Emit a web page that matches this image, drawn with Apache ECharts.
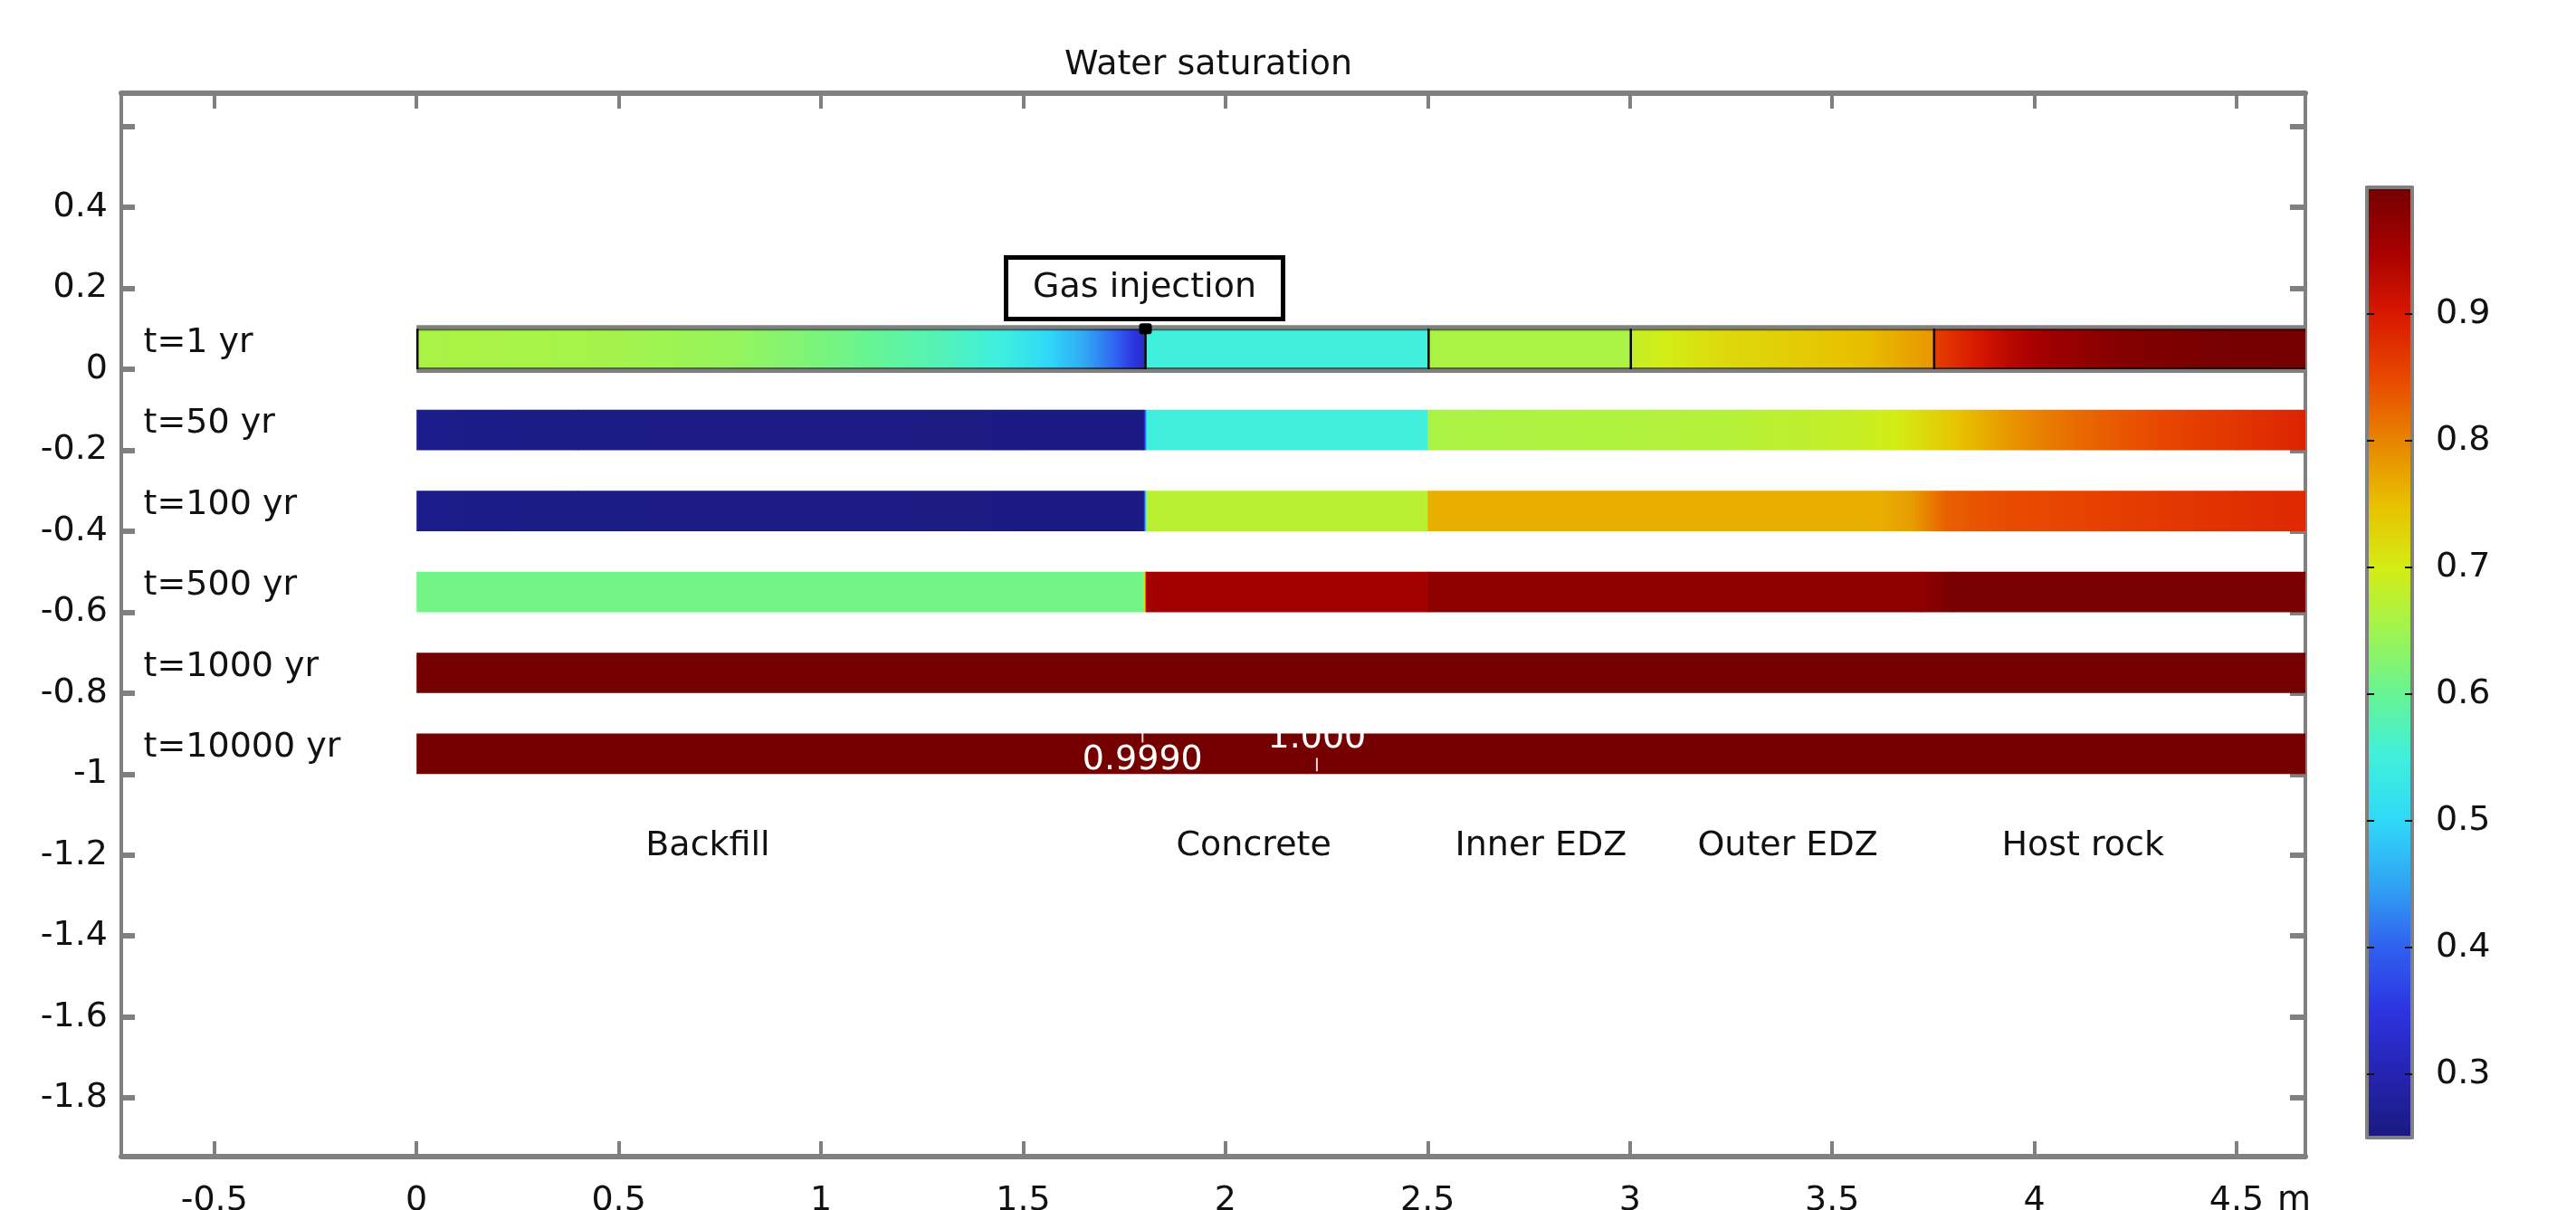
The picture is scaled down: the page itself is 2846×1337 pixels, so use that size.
<!DOCTYPE html>
<html lang="en">
<head>
<meta charset="UTF-8">
<title>Water saturation</title>
<script src="https://cdn.jsdelivr.net/npm/echarts@6/dist/echarts.min.js"></script>
<style>
    html, body {margin: 0; padding: 0; background: #fff;}
    #main {width: 2846px; height: 1337px;}
</style>
</head>
<body>
<div id="main"></div>
<script type="text/javascript">
// one bar per output time
const times = ['t=1 yr', 't=50 yr', 't=100 yr', 't=500 yr', 't=1000 yr', 't=10000 yr'];
// lower edge of each bar, bars are 0.1 m high
const rowBottom = [0, -0.2, -0.4, -0.6, -0.8, -1.0];
const barHeight = 0.1;

const layerNames = ['Backfill', 'Concrete', 'Inner EDZ', 'Outer EDZ', 'Host rock'];
const layerStart = [0, 1.8, 2.5, 3.0, 3.75];
const layerLabelX = [0.72, 2.07, 2.78, 3.39, 4.12];

// water saturation along the section, [x (m), Sw]
const sw1 = [[0, 0.66], [0.45, 0.655], [0.8, 0.64], [1.05, 0.61], [1.3, 0.575], [1.45, 0.545], [1.55, 0.505],
    [1.65, 0.455], [1.73, 0.40], [1.8, 0.32], [1.8, 0.55], [2.5, 0.55], [2.5, 0.66], [3.0, 0.66], [3.0, 0.685],
    [3.1, 0.70], [3.22, 0.72], [3.45, 0.74], [3.6, 0.755], [3.75, 0.785], [3.75, 0.86], [3.82, 0.885],
    [3.93, 0.93], [4.04, 0.96], [4.22, 0.985], [4.45, 0.997], [4.7, 1.0]];
const sw50 = [[0, 0.262], [0.4, 0.254], [1.797, 0.252], [1.805, 0.55], [2.5, 0.55], [2.5, 0.66], [3.2, 0.668],
    [3.55, 0.685], [3.66, 0.70], [3.74, 0.725], [3.82, 0.75], [3.92, 0.78], [4.0, 0.80], [4.1, 0.82],
    [4.3, 0.85], [4.5, 0.87], [4.7, 0.89]];
const sw100 = [[0, 0.262], [0.4, 0.254], [1.797, 0.252], [1.805, 0.675], [2.5, 0.675], [2.5, 0.765],
    [3.62, 0.765], [3.7, 0.78], [3.78, 0.83], [3.9, 0.845], [4.2, 0.86], [4.5, 0.875], [4.7, 0.885]];
const sw500 = [[0, 0.61], [1.797, 0.61], [1.804, 0.955], [2.5, 0.955], [2.5, 0.975], [3.72, 0.975],
    [3.8, 0.995], [4.7, 0.996]];
const sw1000 = [[0, 0.999], [4.7, 0.999]];
const sw10000 = [[0, 0.999], [1.8, 0.999], [2.2, 1.0], [4.7, 1.0]];
const profiles = [sw1, sw50, sw100, sw500, sw1000, sw10000];

// contour labels on the last bar
const contourX = [1.795, 2.226];
const contourText = ['0.9990', '1.000'];
const contourTextY = [-0.967, -0.913];
const contourTick = [[-0.898, -0.922], [-0.96, -0.993]];

const injectionPoint = [1.8, 0.1];
const injectionLabel = [1.8, 0.2];

const xTicks = [-0.5, 0, 0.5, 1, 1.5, 2, 2.5, 3, 3.5, 4, 4.5];
const yTicks = [-1.8, -1.6, -1.4, -1.2, -1, -0.8, -0.6, -0.4, -0.2, 0, 0.2, 0.4, 0.6];
const yLabels = [-1.8, -1.6, -1.4, -1.2, -1, -0.8, -0.6, -0.4, -0.2, 0, 0.2, 0.4];
const cbTicks = [0.3, 0.4, 0.5, 0.6, 0.7, 0.8, 0.9];
const cbRange = [0.25, 1.0];

// colour table of the colour bar
const rainbow = [
    [0.25, '#1a1a80'], [0.30, '#2424b0'], [0.35, '#2c34e0'], [0.40, '#3060f0'],
    [0.45, '#30a4f4'], [0.50, '#30d8f8'], [0.55, '#40f0dc'], [0.60, '#66f494'],
    [0.65, '#a0f450'], [0.70, '#d4ec14'], [0.75, '#e8c000'], [0.80, '#e88400'],
    [0.85, '#e84800'], [0.90, '#d81800'], [0.95, '#a80000'], [1.00, '#740000']
];
const rainbowRgb = rainbow.map(s => [s[0], [1, 3, 5].map(k => parseInt(s[1].slice(k, k + 2), 16))]);

function swColor(v) {
    let a = rainbowRgb[0], b = rainbowRgb[rainbowRgb.length - 1];
    if (v <= a[0]) return 'rgb(' + a[1].join(',') + ')';
    if (v >= b[0]) return 'rgb(' + b[1].join(',') + ')';
    for (let i = 1; i < rainbowRgb.length; i++) {
        if (v <= rainbowRgb[i][0]) {
            a = rainbowRgb[i - 1];
            b = rainbowRgb[i];
            break;
        }
    }
    const f = (v - a[0]) / (b[0] - a[0]);
    const c = a[1].map((x, k) => Math.round(x + (b[1][k] - x) * f));
    return 'rgb(' + c.join(',') + ')';
}

function gradStops(v0, v1, n) {
    let stops = [];
    for (let k = 0; k <= n; k++) {
        stops.push({offset: k / n, color: swColor(v0 + (v1 - v0) * k / n)});
    }
    return stops;
}

// bar pieces between neighbouring profile points
let segData = [];
profiles.forEach((p, r) => {
    for (let i = 0; i < p.length - 1; i++) {
        if (p[i + 1][0] <= p[i][0]) continue;
        segData.push([p[i][0], p[i + 1][0], rowBottom[r], rowBottom[r] + barHeight, p[i][1], p[i + 1][1]]);
    }
});

const grey = '#808080';
const font = 'DejaVu Sans';
const fs = 38;

let myChart = echarts.init(document.getElementById('main'));

let option = {
    animation: false,
    backgroundColor: '#fff',
    title: {
        text: 'Water saturation',
        left: 1176,
        top: 53,
        padding: 0,
        textStyle: {fontFamily: font, fontSize: fs, fontWeight: 'normal', color: '#111'}
    },
    grid: [
        {left: 134, top: 103, width: 2413, height: 1175, outerBoundsMode: 'none'},
        {left: 2615, top: 207, width: 50, height: 1050, outerBoundsMode: 'none'}
    ],
    xAxis: [
        {
            type: 'value', gridIndex: 0, position: 'bottom', min: -0.73, max: 4.67,
            axisLine: {onZero: false, lineStyle: {color: grey, width: 6}},
            axisTick: {inside: true, length: 17, customValues: xTicks, lineStyle: {color: grey, width: 4}},
            axisLabel: {
                customValues: xTicks, margin: 30, color: '#111', fontFamily: font, fontSize: fs,
                formatter: v => String(v)
            },
            splitLine: {show: false},
            name: 'm', nameLocation: 'end', nameGap: -31,
            nameTextStyle: {color: '#111', fontFamily: font, fontSize: fs, verticalAlign: 'top', padding: [30, 0, 0, 0]}
        },
        {
            type: 'value', gridIndex: 0, position: 'top', min: -0.73, max: 4.67,
            axisLine: {onZero: false, lineStyle: {color: grey, width: 6}},
            axisTick: {inside: true, length: 17, customValues: xTicks, lineStyle: {color: grey, width: 4}},
            axisLabel: {show: false},
            splitLine: {show: false}
        },
        {
            type: 'value', gridIndex: 1, position: 'top', min: 0, max: 1, z: 5,
            axisLine: {onZero: false, lineStyle: {color: grey, width: 4}},
            axisTick: {show: false}, axisLabel: {show: false}, splitLine: {show: false}
        },
        {
            type: 'value', gridIndex: 1, position: 'bottom', min: 0, max: 1, z: 5,
            axisLine: {onZero: false, lineStyle: {color: grey, width: 4}},
            axisTick: {show: false}, axisLabel: {show: false}, splitLine: {show: false}
        }
    ],
    yAxis: [
        {
            type: 'value', gridIndex: 0, position: 'left', min: -1.945, max: 0.682,
            axisLine: {onZero: false, lineStyle: {color: grey, width: 4}},
            axisTick: {inside: true, length: 15, customValues: yTicks, lineStyle: {color: grey, width: 6}},
            axisLabel: {
                customValues: yLabels, margin: 15, color: '#111', fontFamily: font, fontSize: fs,
                formatter: v => String(v)
            },
            splitLine: {show: false}
        },
        {
            type: 'value', gridIndex: 0, position: 'right', min: -1.945, max: 0.682,
            axisLine: {onZero: false, lineStyle: {color: grey, width: 4}},
            axisTick: {inside: true, length: 17, customValues: yTicks, lineStyle: {color: grey, width: 6}},
            axisLabel: {show: false},
            splitLine: {show: false}
        },
        {
            type: 'value', gridIndex: 1, position: 'left', min: cbRange[0], max: cbRange[1], z: 5,
            axisLine: {onZero: false, lineStyle: {color: grey, width: 4}},
            axisTick: {inside: true, length: 8, customValues: cbTicks, lineStyle: {color: '#111', width: 2}},
            axisLabel: {show: false},
            splitLine: {show: false}
        },
        {
            type: 'value', gridIndex: 1, position: 'right', min: cbRange[0], max: cbRange[1], z: 5,
            axisLine: {onZero: false, lineStyle: {color: grey, width: 4}},
            axisTick: {inside: true, length: 8, customValues: cbTicks, lineStyle: {color: '#111', width: 2}},
            axisLabel: {
                customValues: cbTicks, margin: 26, color: '#111', fontFamily: font, fontSize: fs,
                formatter: v => String(v)
            },
            splitLine: {show: false}
        }
    ],
    series: [
        {
            // coloured bars
            type: 'custom', xAxisIndex: 0, yAxisIndex: 0, clip: true,
            encode: {x: [0, 1], y: [2, 3]},
            data: segData,
            renderItem: function (params, api) {
                let p0 = api.coord([api.value(0), api.value(3)]);
                let p1 = api.coord([api.value(1), api.value(2)]);
                return {
                    type: 'rect',
                    shape: {x: p0[0], y: p0[1], width: p1[0] - p0[0] + 0.8, height: p1[1] - p0[1]},
                    style: {fill: new echarts.graphic.LinearGradient(0, 0, 1, 0, gradStops(api.value(4), api.value(5), 10))}
                };
            }
        },
        {
            // outline of the selected t=1 yr bar
            type: 'custom', xAxisIndex: 0, yAxisIndex: 0, clip: true,
            data: [[layerStart[0], 4.7, rowBottom[0], rowBottom[0] + barHeight]],
            renderItem: function (params, api) {
                let tl = api.coord([api.value(0), api.value(3)]);
                let br = api.coord([api.value(1), api.value(2)]);
                let kids = [
                    {type: 'line', shape: {x1: tl[0], y1: tl[1] - 2, x2: br[0], y2: tl[1] - 2}, style: {stroke: grey, lineWidth: 4}},
                    {type: 'line', shape: {x1: tl[0], y1: br[1] + 2, x2: br[0], y2: br[1] + 2}, style: {stroke: grey, lineWidth: 4}},
                    {type: 'line', shape: {x1: tl[0], y1: tl[1] + 1, x2: br[0], y2: tl[1] + 1}, style: {stroke: 'rgba(0,0,0,0.55)', lineWidth: 2}},
                    {type: 'line', shape: {x1: tl[0], y1: br[1] - 1, x2: br[0], y2: br[1] - 1}, style: {stroke: 'rgba(0,0,0,0.55)', lineWidth: 2}}
                ];
                layerStart.forEach(x => {
                    let px = api.coord([x, 0])[0];
                    kids.push({type: 'line', shape: {x1: px + 1, y1: tl[1], x2: px + 1, y2: br[1]}, style: {stroke: '#000', lineWidth: 2.5}});
                });
                return {type: 'group', children: kids};
            }
        },
        {
            // contour labels on the last bar
            type: 'custom', xAxisIndex: 0, yAxisIndex: 0,
            data: contourX.map((x, i) => [x, contourTextY[i], contourTick[i][0], contourTick[i][1]]),
            renderItem: function (params, api) {
                let c = api.coord([api.value(0), api.value(1)]);
                let t0 = api.coord([api.value(0), api.value(2)]);
                let t1 = api.coord([api.value(0), api.value(3)]);
                return {
                    type: 'group', children: [
                        {type: 'line', shape: {x1: t0[0], y1: t0[1], x2: t1[0], y2: t1[1]}, style: {stroke: 'rgba(255,255,255,0.85)', lineWidth: 2}},
                        {
                            type: 'text', x: c[0], y: c[1],
                            style: {text: contourText[params.dataIndex], fill: '#fff', fontFamily: font, fontSize: fs, align: 'center', verticalAlign: 'middle'}
                        }
                    ]
                };
            }
        },
        {
            // time labels
            type: 'custom', xAxisIndex: 0, yAxisIndex: 0,
            data: times.map((t, i) => [-0.675, rowBottom[i] + 0.065]),
            renderItem: function (params, api) {
                let c = api.coord([api.value(0), api.value(1)]);
                return {
                    type: 'text', x: c[0], y: c[1],
                    style: {text: times[params.dataIndex], fill: '#111', fontFamily: font, fontSize: fs, align: 'left', verticalAlign: 'middle'}
                };
            }
        },
        {
            // layer names
            type: 'custom', xAxisIndex: 0, yAxisIndex: 0,
            data: layerNames.map((n, i) => [layerLabelX[i], -1.178]),
            renderItem: function (params, api) {
                let c = api.coord([api.value(0), api.value(1)]);
                return {
                    type: 'text', x: c[0], y: c[1],
                    style: {text: layerNames[params.dataIndex], fill: '#111', fontFamily: font, fontSize: fs, align: 'center', verticalAlign: 'middle'}
                };
            }
        },
        {
            // gas injection point and its label
            type: 'custom', xAxisIndex: 0, yAxisIndex: 0,
            data: [[injectionLabel[0], injectionLabel[1], injectionPoint[0], injectionPoint[1]]],
            renderItem: function (params, api) {
                let c = api.coord([api.value(0), api.value(1)]);
                let p = api.coord([api.value(2), api.value(3)]);
                return {
                    type: 'group', children: [
                        {
                            type: 'rect', shape: {x: c[0] - 153, y: c[1] - 34, width: 306, height: 68},
                            style: {fill: '#fff', stroke: '#000', lineWidth: 5}
                        },
                        {
                            type: 'text', x: c[0], y: c[1],
                            style: {text: 'Gas injection', fill: '#111', fontFamily: font, fontSize: fs, align: 'center', verticalAlign: 'middle'}
                        },
                        {
                            type: 'rect', shape: {x: p[0] - 6, y: p[1] - 6, width: 14, height: 12, r: 3},
                            style: {fill: '#000'}
                        }
                    ]
                };
            }
        },
        {
            // colour bar
            type: 'custom', xAxisIndex: 2, yAxisIndex: 2,
            data: [[0, 1, cbRange[0], cbRange[1]]],
            renderItem: function (params, api) {
                let tl = api.coord([api.value(0), api.value(3)]);
                let br = api.coord([api.value(1), api.value(2)]);
                return {
                    type: 'rect',
                    shape: {x: tl[0], y: tl[1], width: br[0] - tl[0], height: br[1] - tl[1]},
                    style: {fill: new echarts.graphic.LinearGradient(0, 0, 0, 1, gradStops(api.value(3), api.value(2), 60))}
                };
            }
        }
    ]
};

myChart.setOption(option);
</script>
</body>
</html>
